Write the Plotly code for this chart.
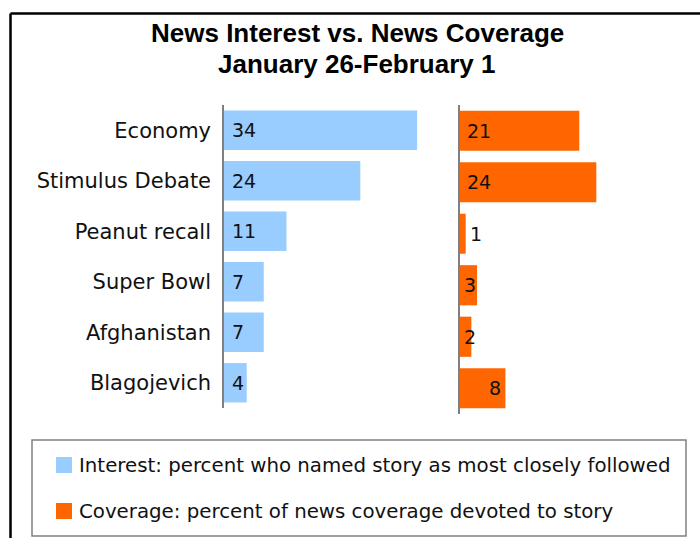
import plotly.graph_objects as go

# ---- data ----
stories = ["Economy", "Stimulus Debate", "Peanut recall", "Super Bowl", "Afghanistan", "Blagojevich"]
interest = [34, 24, 11, 7, 7, 4]
coverage = [21, 24, 1, 3, 2, 8]
title_lines = ["News Interest vs. News Coverage", "January 26-February 1"]
legend_labels = [
    "Interest: percent who named story as most closely followed",
    "Coverage: percent of news coverage devoted to story",
]

# ---- style ----
BLUE = "#99CCFF"
ORANGE = "#FF6600"
AXIS_GREY = "#808080"
LABEL_FONT = "DejaVu Sans"
TITLE_FONT = "Liberation Sans"
cov_label_mode = ["start", "start", "after", "start", "start", "end"]

W, H = 700, 538


def px(x):
    return x / W


def py(y):
    return 1 - y / H


XMAX = 36
SCALE = 5.68  # px per unit

fig = go.Figure()
fig.add_trace(go.Bar(
    y=stories, x=interest, orientation="h",
    marker=dict(color=BLUE, line_width=0),
    xaxis="x", yaxis="y", showlegend=False, hoverinfo="skip",
))
fig.add_trace(go.Bar(
    y=stories, x=coverage, orientation="h",
    marker=dict(color=ORANGE, line_width=0),
    xaxis="x2", yaxis="y2", showlegend=False, hoverinfo="skip",
))

hidden_x = dict(range=[0, XMAX], showline=False, showticklabels=False,
                showgrid=False, zeroline=False, ticks="", fixedrange=True)

fig.update_layout(
    width=W, height=H,
    margin=dict(l=0, r=0, t=0, b=0),
    paper_bgcolor="white", plot_bgcolor="white",
    bargap=0.22,
    xaxis=dict(domain=[px(224), px(224 + XMAX * SCALE)], anchor="y", **hidden_x),
    xaxis2=dict(domain=[px(460), px(460 + XMAX * SCALE)], anchor="y2", **hidden_x),
    yaxis=dict(domain=[py(408), py(105)], anchor="x", autorange="reversed",
               showline=True, linecolor=AXIS_GREY, linewidth=1.5,
               showgrid=False, zeroline=False, ticks="",
               ticklabelstandoff=7,
               tickfont=dict(family=LABEL_FONT, size=21, color="#111111")),
    yaxis2=dict(domain=[py(414), py(105)], anchor="x2", autorange="reversed",
                showline=True, linecolor=AXIS_GREY, linewidth=1.5,
                showgrid=False, zeroline=False, ticks="", showticklabels=False),
    showlegend=False,
)

annotations = []
num_font = dict(family=LABEL_FONT, size=19, color="#111111")
for s, v in zip(stories, interest):
    annotations.append(dict(x=0, y=s, xref="x", yref="y", text=str(v),
                            xanchor="left", yanchor="middle", xshift=6,
                            showarrow=False, font=num_font))
for s, v, mode in zip(stories, coverage, cov_label_mode):
    if mode == "start":
        ann = dict(x=0, xanchor="left", xshift=5 if v >= 5 else 2)
    elif mode == "after":
        ann = dict(x=v, xanchor="left", xshift=2)
    else:
        ann = dict(x=v, xanchor="right", xshift=-2)
    ann.update(y=s, xref="x2", yref="y2", text=str(v), yanchor="middle",
               showarrow=False, font=num_font)
    annotations.append(ann)

# title
title_font = dict(family=TITLE_FONT, size=26, color="black")
annotations.append(dict(x=px(357), y=py(33), xref="paper", yref="paper",
                        text="<b>%s</b>" % title_lines[0], showarrow=False,
                        xanchor="center", yanchor="middle", font=title_font))
annotations.append(dict(x=px(356), y=py(64), xref="paper", yref="paper",
                        text="<b>%s</b>" % title_lines[1], showarrow=False,
                        xanchor="center", yanchor="middle", font=title_font))

# legend text
leg_font = dict(family=LABEL_FONT, size=19.8, color="#111111")
for label, yc in zip(legend_labels, [465, 511]):
    annotations.append(dict(x=px(77), y=py(yc), xref="paper", yref="paper",
                            text=label, showarrow=False, xanchor="left",
                            yanchor="middle", font=leg_font))

shapes = [
    # outer frame (top and left edges)
    dict(type="line", xref="paper", yref="paper", x0=px(10.5), x1=px(720),
         y0=py(13.5), y1=py(13.5), line=dict(color="black", width=2.5)),
    dict(type="line", xref="paper", yref="paper", x0=px(10.5), x1=px(10.5),
         y0=py(13.5), y1=py(560), line=dict(color="black", width=2.5)),
    # legend box
    dict(type="rect", xref="paper", yref="paper", x0=px(32), x1=px(686),
         y0=py(536), y1=py(440), line=dict(color=AXIS_GREY, width=1.5)),
    # legend swatches
    dict(type="rect", xref="paper", yref="paper", x0=px(56), x1=px(72),
         y0=py(473), y1=py(457), fillcolor=BLUE, line=dict(width=0)),
    dict(type="rect", xref="paper", yref="paper", x0=px(56), x1=px(72),
         y0=py(519), y1=py(503), fillcolor=ORANGE, line=dict(width=0)),
]

fig.update_layout(annotations=annotations, shapes=shapes)
fig.write_html("out.html")
